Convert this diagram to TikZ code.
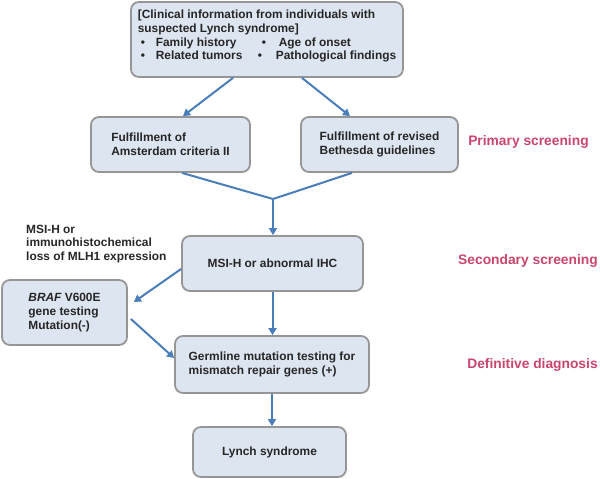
\documentclass[tikz,border=0pt]{standalone}
\usepackage{fontspec}
\setmainfont{Liberation Sans}
\usetikzlibrary{arrows.meta}
\definecolor{boxfill}{RGB}{221,229,240}
\definecolor{boxline}{RGB}{150,150,150}
\definecolor{arrowblue}{RGB}{74,126,187}
\definecolor{pinklabel}{RGB}{201,69,110}
\definecolor{textdark}{RGB}{38,38,38}
\begin{document}
\begin{tikzpicture}[x=1pt,y=-1pt,
  box/.style={draw=boxline, line width=1.8pt, fill=boxfill, rounded corners=8pt,
    inner sep=0pt, text=textdark, font=\fontsize{11.9}{14}\selectfont\bfseries, align=left},
  lbl/.style={text=textdark, font=\fontsize{11.9}{13.5}\selectfont\bfseries, align=left, inner sep=0pt},
  stage/.style={text=pinklabel, font=\fontsize{13.8}{16}\selectfont\bfseries, inner sep=0pt},
  arr/.style={draw=arrowblue, line width=2pt, -{Triangle[length=7pt,width=8pt]}},
  ln/.style={draw=arrowblue, line width=2pt}]

\useasboundingbox (0,0) rectangle (600,479);

% boxes
\node[box, minimum width=272, minimum height=75, font=\fontsize{11.9}{13.7}\selectfont\bfseries] (info) at (267,39.5)
  {\raisebox{3pt}[\height][\depth]{\begin{tabular}{@{}l@{}}
   [Clinical information from individuals with\\
   suspected Lynch syndrome]\\
   \hspace{3pt}\makebox[15pt][l]{\textbullet}\makebox[106pt][l]{Family history}\makebox[17pt][l]{\textbullet}Age of onset\\
   \hspace{3pt}\makebox[15pt][l]{\textbullet}\makebox[102pt][l]{Related tumors}\makebox[18pt][l]{\textbullet}Pathological findings
   \end{tabular}}};
\node[box, minimum width=159, minimum height=55] (ams) at (170.5,144.5)
  {Fulfillment of\\Amsterdam criteria II};
\node[box, minimum width=157, minimum height=55] (beth) at (379.5,144.5)
  {Fulfillment of revised\\Bethesda guidelines};
\node[box, minimum width=181, minimum height=55] (msi) at (272.5,263.5)
  {MSI-H or abnormal IHC};
\node[box, minimum width=125, minimum height=65] (braf) at (64.5,312.5)
  {{\itshape BRAF} V600E\\gene testing\\Mutation(-)};
\node[box, minimum width=194, minimum height=57] (germ) at (272,364.5)
  {Germline mutation testing for\\mismatch repair genes (+)};
\node[box, minimum width=153, minimum height=50] (lynch) at (269.5,452)
  {Lynch syndrome};

% side labels
\node[lbl, anchor=west] (msilbl) at (26,244)
  {MSI-H or\\immunohistochemical\\loss of MLH1 expression};
\node[stage] (prim) at (528.5,142) {Primary screening};
\node[stage] (sec) at (528,261) {Secondary screening};
\node[stage] (defi) at (532.5,365) {Definitive diagnosis};

% connectors
\coordinate (merge) at (273,199);
\draw[arr] ([shift={(-34,0)}]info.south) -- ([shift={(12.5,0)}]ams.north);
\draw[arr] ([shift={(35,0)}]info.south) -- ([shift={(-29.5,0)}]beth.north);
\draw[ln] ([shift={(11.5,0)}]ams.south) -- (merge);
\draw[ln] ([shift={(-27.5,0)}]beth.south) -- (merge);
\draw[arr] (merge) -- (merge |- msi.north);
\draw[arr] ([shift={(0,5.5)}]msi.west) -- ([shift={(6,-10.5)}]braf.east);
\draw[arr] ([shift={(3,6.5)}]braf.east) -- ([shift={(0,-6.5)}]germ.west);
\draw[arr] (msi.south) -- (msi.south |- germ.north);
\draw[arr] (germ.south) -- (germ.south |- lynch.north);
\end{tikzpicture}
\end{document}
